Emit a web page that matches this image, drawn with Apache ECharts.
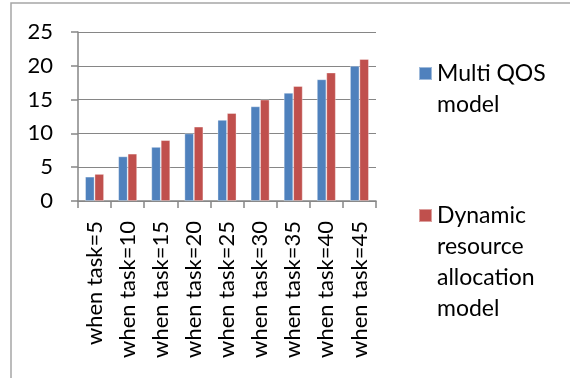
<!DOCTYPE html>
<html>
<head>
<meta charset="utf-8">
<script src="https://cdn.jsdelivr.net/npm/echarts@6/dist/echarts.min.js"></script>
<style>
  html, body { margin: 0; padding: 0; background: #fff; }
  #chart { width: 570px; height: 378px; }
</style>
</head>
<body>
<div id="chart"></div>
<script>
// categories and values
var categories = ['when task=5', 'when task=10', 'when task=15', 'when task=20', 'when task=25',
                  'when task=30', 'when task=35', 'when task=40', 'when task=45'];
var multiQos = [3.6, 6.6, 8, 10, 12, 14, 16, 18, 20];
var dynamicAlloc = [4, 7, 9, 11, 13, 15, 17, 19, 21];
var seriesNames = ['Multi QOS model', 'Dynamic resource allocation model'];
// legend text is wrapped the same way as in the picture
var legendLines = [['Multi QOS', 'model'], ['Dynamic', 'resource', 'allocation', 'model']];

var FONT = 'Lato';
var LH = 31; // legend line height

var chart = echarts.init(document.getElementById('chart'));

function legendFor(i, top) {
    return {
        orient: 'vertical',
        left: 418,
        top: top,
        padding: 0,
        itemWidth: 13,
        itemHeight: 13,
        itemGap: 0,
        icon: 'rect',
        selectedMode: false,
        data: [seriesNames[i]],
        formatter: function (name) {
            var lines = legendLines[seriesNames.indexOf(name)];
            // legend text is centred on the square, so blank lines in front
            // push the first line level with it (like the original)
            var pad = [];
            for (var k = 1; k < lines.length; k++) pad.push('');
            return pad.concat(lines).join('\n');
        },
        textStyle: {
            fontFamily: FONT,
            fontSize: 23,
            lineHeight: LH,
            color: '#000'
        }
    };
}

var option = {
    animation: false,
    textStyle: {fontFamily: FONT},
    color: ['#4F81BD', '#C0504D'],
    graphic: [{
        type: 'rect',
        shape: {x: 11, y: 3, width: 640, height: 420},
        style: {fill: 'none', stroke: '#a6a6a6', lineWidth: 1.5},
        silent: true
    }],
    legend: [legendFor(0, 27), legendFor(1, 107)],
    grid: {
        left: 78,
        top: 32,
        right: 194,
        bottom: 177
    },
    xAxis: {
        type: 'category',
        data: categories,
        axisLine: {lineStyle: {color: '#868686', width: 1.5}},
        axisTick: {show: true, length: 7, interval: 0, lineStyle: {color: '#868686', width: 1.5}},
        axisLabel: {
            interval: 0,
            rotate: 90,
            margin: 20,
            color: '#000',
            fontFamily: FONT,
            fontSize: 22
        }
    },
    yAxis: {
        type: 'value',
        min: 0,
        max: 25,
        interval: 5,
        axisLine: {show: true, lineStyle: {color: '#868686', width: 1.5}},
        axisTick: {show: true, length: 7, lineStyle: {color: '#868686', width: 1.5}},
        splitLine: {lineStyle: {color: '#868686', width: 1.2}},
        axisLabel: {
            margin: 25,
            color: '#000',
            fontFamily: FONT,
            fontSize: 22
        }
    },
    series: [
        {
            name: seriesNames[0],
            type: 'bar',
            data: multiQos,
            barGap: '0%',
            barCategoryGap: '43%',
            itemStyle: {borderColor: 'rgba(255,255,255,0.45)', borderWidth: 0.8}
        },
        {
            name: seriesNames[1],
            type: 'bar',
            data: dynamicAlloc,
            itemStyle: {borderColor: 'rgba(255,255,255,0.45)', borderWidth: 0.8}
        }
    ]
};

chart.setOption(option);
</script>
</body>
</html>
